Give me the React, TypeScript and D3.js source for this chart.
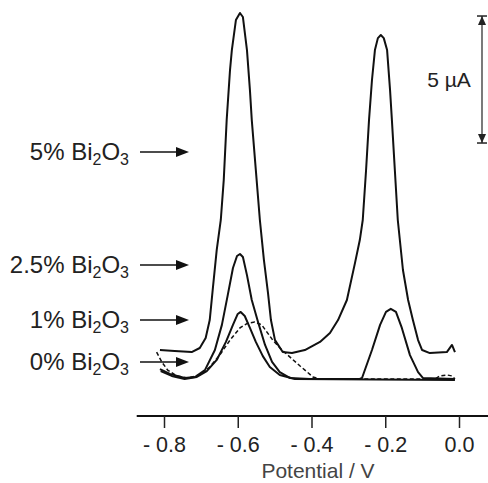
import React, { useEffect, useRef } from 'react';
import * as d3 from 'd3';

// potential (V), current (uA)
const curve5 = [
  [-0.811, 1.18], [-0.771, 1.14], [-0.725, 1.10], [-0.703, 1.26], [-0.687, 1.65], [-0.676, 2.36],
  [-0.668, 3.54], [-0.657, 5.12], [-0.646, 6.30], [-0.638, 7.87], [-0.630, 10.24], [-0.621, 12.2],
  [-0.616, 12.99], [-0.605, 14.17], [-0.594, 14.45], [-0.586, 14.29], [-0.575, 12.99], [-0.567, 11.42],
  [-0.562, 10.24], [-0.551, 8.27], [-0.540, 6.30], [-0.529, 4.72], [-0.518, 3.43], [-0.510, 2.36],
  [-0.499, 1.57], [-0.478, 1.10], [-0.453, 1.06], [-0.418, 1.18], [-0.377, 1.50], [-0.350, 1.85],
  [-0.328, 2.36], [-0.304, 3.15], [-0.282, 4.61], [-0.269, 5.51], [-0.261, 6.30], [-0.252, 8.27],
  [-0.244, 10.24], [-0.236, 11.81], [-0.228, 12.99], [-0.220, 13.46], [-0.212, 13.58], [-0.204, 13.46],
  [-0.195, 12.99], [-0.187, 11.42], [-0.182, 10.24], [-0.174, 8.27], [-0.166, 6.30], [-0.152, 4.33],
  [-0.138, 3.15], [-0.125, 2.36], [-0.111, 1.57], [-0.100, 1.18], [-0.079, 1.06], [-0.033, 1.10],
  [-0.019, 1.38], [-0.011, 1.10]
];

const curve25 = [
  [-0.811, 0.43], [-0.784, 0.24], [-0.744, 0.08], [-0.716, 0.12], [-0.689, 0.39], [-0.662, 1.18],
  [-0.643, 2.17], [-0.627, 3.35], [-0.613, 4.41], [-0.602, 4.88], [-0.594, 4.96], [-0.586, 4.84],
  [-0.575, 4.13], [-0.562, 3.15], [-0.545, 2.28], [-0.526, 1.38], [-0.507, 0.71], [-0.486, 0.31],
  [-0.459, 0.08], [-0.404, 0.04], [-0.269, 0.04], [-0.263, 0.08], [-0.236, 1.18], [-0.214, 2.17],
  [-0.198, 2.68], [-0.185, 2.80], [-0.171, 2.68], [-0.155, 2.05], [-0.133, 0.98], [-0.111, 0.31],
  [-0.098, 0.08], [-0.011, 0.04]
];

const curve1 = [
  [-0.809, 0.35], [-0.779, 0.16], [-0.744, 0.04], [-0.711, 0.12], [-0.684, 0.35], [-0.657, 0.79],
  [-0.632, 1.50], [-0.613, 2.17], [-0.600, 2.60], [-0.592, 2.68], [-0.581, 2.52], [-0.567, 2.05],
  [-0.551, 1.50], [-0.532, 0.94], [-0.513, 0.51], [-0.486, 0.20], [-0.445, 0.04], [-0.011, 0.0]
];

const curve0 = [
  [-0.820, 1.10], [-0.806, 0.71], [-0.790, 0.39], [-0.765, 0.16], [-0.735, 0.08], [-0.703, 0.20],
  [-0.676, 0.51], [-0.649, 0.98], [-0.621, 1.57], [-0.594, 2.05], [-0.573, 2.24], [-0.554, 2.28],
  [-0.535, 2.17], [-0.505, 1.57], [-0.480, 1.18], [-0.459, 0.91], [-0.431, 0.55], [-0.396, 0.12],
  [-0.377, 0.04], [-0.065, 0.04], [-0.052, 0.16], [-0.033, 0.20], [-0.019, 0.16], [-0.011, 0.04]
];

const tickValues = [-0.8, -0.6, -0.4, -0.2, 0.0];
const labels = ['5', '2.5', '1', '0'];
const scaleBar = [9.33, 14.33];

function App() {
  const ref = useRef(null);

  useEffect(() => {
    const svg = d3.select(ref.current);
    svg.selectAll('*').remove();

    const font = 'Liberation Sans, Arial, sans-serif';
    const x = d3.scaleLinear().domain([-0.8, 0]).range([164, 459]);
    const y = d3.scaleLinear().domain([0, 5]).range([380, 253]);

    const line = d3.line().x(d => x(d[0])).y(d => y(d[1]));

    const curves = [curve5, curve25, curve1];
    svg.selectAll('path.curve')
      .data(curves)
      .enter().append('path')
      .attr('class', 'curve')
      .attr('d', line)
      .attr('fill', 'none')
      .attr('stroke', '#111')
      .attr('stroke-width', 2)
      .attr('stroke-linejoin', 'round');

    svg.append('path')
      .attr('d', line(curve0))
      .attr('fill', 'none')
      .attr('stroke', '#111')
      .attr('stroke-width', 1.5)
      .attr('stroke-dasharray', '4,2.5');

    // x axis
    const axisY = 416;
    svg.append('line')
      .attr('x1', x(-0.874)).attr('x2', x(0.08))
      .attr('y1', axisY).attr('y2', axisY)
      .attr('stroke', '#111').attr('stroke-width', 2);

    const axis = svg.append('g')
      .attr('transform', `translate(0,${axisY})`)
      .call(d3.axisBottom(x).tickValues(tickValues).tickSize(12).tickPadding(9)
        .tickFormat(d => d === 0 ? '0.0' : '- ' + d3.format('.1f')(-d)));
    axis.select('.domain').remove();
    axis.selectAll('line').attr('stroke', '#222').attr('stroke-width', 1.5);
    axis.selectAll('text')
      .attr('font-family', font)
      .attr('font-size', 21.5)
      .attr('fill', '#222');

    svg.append('text')
      .attr('x', 318).attr('y', 478)
      .attr('text-anchor', 'middle')
      .attr('font-family', font)
      .attr('font-size', 21)
      .attr('fill', '#444')
      .text('Potential / V');

    // labels with arrows
    const lab = svg.selectAll('g.lab')
      .data(labels)
      .enter().append('g')
      .attr('class', 'lab');

    const arrowY = [152, 265, 320, 362];
    lab.each(function (d, i) {
      const g = d3.select(this);
      const yy = arrowY[i];
      const t = g.append('text')
        .attr('x', 129).attr('y', yy + 8)
        .attr('text-anchor', 'end')
        .attr('font-family', font)
        .attr('font-size', 24)
        .attr('fill', '#222');
      t.append('tspan').text(d + '% Bi');
      t.append('tspan').attr('font-size', 16).attr('dy', 5).text('2');
      t.append('tspan').attr('dy', -5).text('O');
      t.append('tspan').attr('font-size', 16).attr('dy', 5).text('3');
      g.append('line')
        .attr('x1', 140).attr('x2', 178)
        .attr('y1', yy).attr('y2', yy)
        .attr('stroke', '#111').attr('stroke-width', 1.5);
      g.append('path')
        .attr('d', `M176,${yy - 5}L189,${yy}L176,${yy + 5}Z`)
        .attr('fill', '#111');
    });

    // scale bar
    const sx = 482;
    const top = y(scaleBar[1]);
    const bot = y(scaleBar[0]);
    svg.append('line')
      .attr('x1', sx).attr('x2', sx).attr('y1', top).attr('y2', bot)
      .attr('stroke', '#222').attr('stroke-width', 1.2);
    [top, bot].forEach(v => {
      svg.append('line')
        .attr('x1', sx - 5).attr('x2', sx + 5).attr('y1', v).attr('y2', v)
        .attr('stroke', '#222').attr('stroke-width', 1.5);
    });
    svg.append('path')
      .attr('d', `M${sx},${top}L${sx - 4},${top + 9}L${sx + 4},${top + 9}Z`)
      .attr('fill', '#222');
    svg.append('path')
      .attr('d', `M${sx},${bot}L${sx - 4},${bot - 9}L${sx + 4},${bot - 9}Z`)
      .attr('fill', '#222');
    svg.append('text')
      .attr('x', 449).attr('y', y((scaleBar[0] + scaleBar[1]) / 2) + 7)
      .attr('text-anchor', 'middle')
      .attr('font-family', font)
      .attr('font-size', 21)
      .attr('fill', '#222')
      .text('5 \u00B5A');
  }, []);

  return (
    <svg ref={ref} width={488} height={483}
      style={{ position: 'absolute', left: 0, top: 0, background: '#fff' }} />
  );
}

export default App;
